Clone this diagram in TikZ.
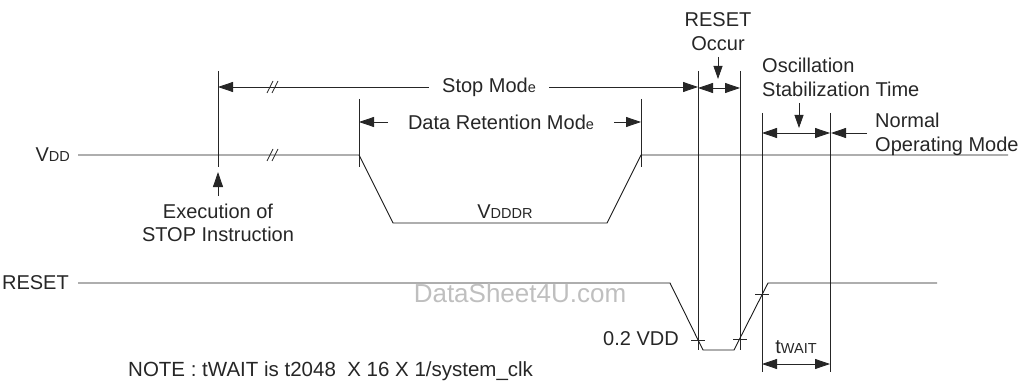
\documentclass[tikz,border=0pt]{standalone}
\usepackage{fontspec}
\setmainfont{Liberation Sans}
\usetikzlibrary{arrows.meta}
\newcommand\sml[1]{{\fontsize{14.5}{15}\selectfont #1}}
\begin{document}
\begin{tikzpicture}[x=1pt,y=-1pt,
  wire/.style={line width=0.9pt, draw=black!90},
  guide/.style={line width=0.8pt, draw=black!85},
  tip/.style={-{Triangle[length=15pt,width=10pt]}},
  tipb/.style={{Triangle[length=15pt,width=10pt]}-{Triangle[length=15pt,width=10pt]}},
  tips/.style={-{Triangle[length=13pt,width=9pt]}},
  lbl/.style={font=\fontsize{20}{22}\selectfont, inner sep=0pt, text=black!85},
  seg/.style={lbl, inner xsep=13pt},
]
\useasboundingbox (0,0) rectangle (1022,385);

% vertical timing marks
\draw[guide] (218,71) -- (218,167);
\draw[guide] (359,99) -- (359,167);
\draw[guide] (641,99) -- (641,167);
\draw[guide] (698,71) -- (698,350);
\draw[guide] (740,71) -- (740,350);
\draw[guide] (762,113) -- (762,372);
\draw[guide] (830,113) -- (830,372);

% anchor points on the marks
\coordinate (stopL) at (218,87);
\coordinate (stopR) at (698,87);
\coordinate (drL) at (359,122);
\coordinate (drR) at (641,122);
\coordinate (rsL) at (698,88);
\coordinate (rsR) at (740,88);
\coordinate (osL) at (762,133);
\coordinate (osR) at (830,133);
\coordinate (twL) at (762,364);
\coordinate (twR) at (830,364);

% Stop Mode span
\node[seg] (stop) at (489,87) {Stop Mod\sml{e}};
\draw[guide,tip] (stop.west) -- (stopL);
\draw[guide,tip] (stop.east) -- (stopR);
\draw[guide] (267,93) -- (273,81) (272,93) -- (278,81);

% Data Retention Mode span
\node[lbl] (dr) at (501,122) {Data Retention Mod\sml{e}};
\coordinate (drLi) at (388,122);
\coordinate (drRi) at (614,122);
\draw[guide,tip] (drLi) -- (drL);
\draw[guide,tip] (drRi) -- (drR);

% RESET occur span
\draw[guide,tipb] (rsL) -- (rsR);
\node[lbl, align=center] (occ) at (718,32) {RESET\\[2pt]Occur};
\coordinate (occA) at (718,57);
\coordinate (occB) at (718,79);
\draw[guide,tips] (occA) -- (occB);

% oscillation stabilization span
\draw[guide,tipb] (osL) -- (osR);
\node[lbl, align=left, anchor=west] (osc) at (762,77) {Oscillation\\[2pt]Stabilization Time};
\coordinate (oscA) at (799,103);
\coordinate (oscB) at (799,128);
\draw[guide,tips] (oscA) -- (oscB);

% normal operating mode
\node[lbl, align=left, anchor=west] (nom) at (875,134) {Normal\\[2pt]Operating Mode};
\coordinate (nomA) at (867,133);
\coordinate (nomB) at (831,133);
\draw[guide,tip] (nomA) -- (nomB);

% VDD waveform
\node[lbl, anchor=east] (vdd) at (70,155) {V\sml{DD}};
\draw[wire] (78,155) -- (359,155) -- (393,223) -- (607,223) -- (641,155) -- (1008,155);
\draw[guide] (267,161) -- (273,149) (272,161) -- (278,149);
\node[lbl] (vdr) at (505,212) {V\sml{DDDR}};

% STOP instruction marker
\node[lbl, align=center] (exe) at (218,223) {Execution of\\[1pt]STOP Instruction};
\coordinate (exA) at (218,196);
\coordinate (exB) at (218,172);
\draw[guide,tip] (exA) -- (exB);

% RESET waveform
\node[lbl, anchor=east] (rst) at (69,283) {RESET};
\draw[wire] (78,283) -- (670,283) -- (703,350) -- (734,350) -- (768,283) -- (937,283);
\draw[guide] (691,340) -- (705,340) (733,339) -- (747,339) (755,294) -- (769,294);
\node[lbl, anchor=east] (lv) at (679,339) {0.2 VDD};

% wait time span
\draw[guide,tipb] (twL) -- (twR);
\node[lbl] (tw) at (796,347) {t\sml{WAIT}};

% watermark and note
\node[lbl, font=\fontsize{26}{28}\selectfont, text=black!25] (wm) at (520,293) {DataSheet4U.com};
\node[lbl, font=\fontsize{20.5}{22}\selectfont, anchor=west] (note) at (128,371) {NOTE : tWAIT is t2048\ \ X 16 X 1/system\_clk};
\end{tikzpicture}
\end{document}
